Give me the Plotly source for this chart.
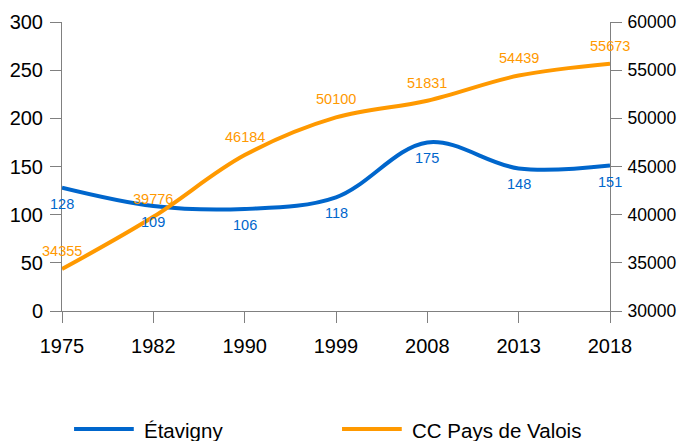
import plotly.graph_objects as go

years = ["1975", "1982", "1990", "1999", "2008", "2013", "2018"]
etavigny = [128, 109, 106, 118, 175, 148, 151]
cc_valois = [34355, 39776, 46184, 50100, 51831, 54439, 55673]
series_names = ["Étavigny", "CC Pays de Valois"]

blue = "#0066cc"
orange = "#ff9900"
xpos = list(range(len(years)))

fig = go.Figure()
fig.add_trace(go.Scatter(
    x=xpos, y=etavigny, name=series_names[0], mode="lines",
    line=dict(color=blue, width=4, shape="spline", smoothing=1),
    showlegend=False,
))
fig.add_trace(go.Scatter(
    x=xpos, y=cc_valois, name=series_names[1], mode="lines", yaxis="y2",
    line=dict(color=orange, width=4, shape="spline", smoothing=1),
    showlegend=False,
))

annotations = []
# data labels placed at the data points through the axes' scales
for xi, v in zip(xpos, etavigny):
    annotations.append(dict(x=xi, y=v, xref="x", yref="y", text=str(v), showarrow=False,
                            xanchor="center", yanchor="middle", yshift=-16,
                            font=dict(size=14.5, color=blue, family="Liberation Sans")))
for xi, v in zip(xpos, cc_valois):
    annotations.append(dict(x=xi, y=v, xref="x", yref="y2", text=str(v), showarrow=False,
                            xanchor="center", yanchor="middle", yshift=18,
                            font=dict(size=14.5, color=orange, family="Liberation Sans")))

axis_common = dict(showgrid=False, zeroline=False, showline=True, linecolor="#808080",
                   linewidth=1, ticks="outside", ticklen=11, tickcolor="#808080",
                   automargin=False)
tick_font = dict(size=20, color="#000000", family="Liberation Sans")

# manual legend (line samples + labels) below the plot
legend_items = [(series_names[0], blue, 0.022, 0.131, 0.146),
                (series_names[1], orange, 0.511, 0.620, 0.635)]
shapes = []
for name, col, lx0, lx1, tx in legend_items:
    shapes.append(dict(type="line", xref="paper", yref="paper", x0=lx0, x1=lx1,
                       y0=-0.408, y1=-0.408, line=dict(color=col, width=4)))
    annotations.append(dict(text=name, xref="paper", yref="paper", x=tx, y=-0.413,
                            xanchor="left", yanchor="middle", showarrow=False,
                            font=dict(size=20.5, color="#000000", family="Liberation Sans")))

fig.update_layout(
    width=678, height=441,
    margin=dict(l=62, r=68, t=22, b=130),
    paper_bgcolor="white", plot_bgcolor="white",
    font=dict(family="Liberation Sans", color="#000000"),
    showlegend=False,
    shapes=shapes, annotations=annotations,
    xaxis=dict(range=[0, 6], tickvals=xpos, ticktext=years, ticklabelstandoff=6,
               tickfont=tick_font, **axis_common),
    yaxis=dict(range=[0, 300], dtick=50, ticklabelstandoff=3, tickfont=tick_font, **axis_common),
    yaxis2=dict(range=[30000, 60000], dtick=5000, tickformat="d", overlaying="y", side="right",
                ticklabelstandoff=2, tickfont=dict(tick_font, size=17.5), **axis_common),
)
fig.write_html("out.html", config={"displayModeBar": False},
               post_script="document.body.style.margin='0px';document.body.style.overflow='hidden';")
